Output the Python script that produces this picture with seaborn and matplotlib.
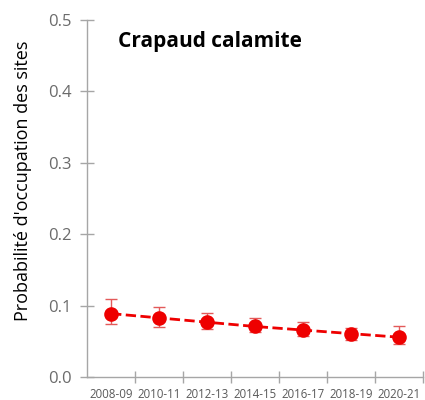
import numpy as np
import pandas as pd
import seaborn as sns
from matplotlib import pyplot as plt

periods = ['2008-09', '2010-11', '2012-13', '2014-15', '2016-17', '2018-19', '2020-21']
occupancy = [0.089, 0.083, 0.077, 0.071, 0.066, 0.061, 0.056]
ci_low = [0.074, 0.070, 0.068, 0.063, 0.057, 0.052, 0.046]
ci_high = [0.109, 0.098, 0.090, 0.083, 0.077, 0.069, 0.071]
y_ticks = [0.0, 0.1, 0.2, 0.3, 0.4, 0.5]

sns.set_style('white')
plt.rcParams['font.family'] = ['Open Sans', 'DejaVu Sans']

df = pd.DataFrame({'period': periods, 'occ': occupancy})

fig = plt.figure(figsize=(4.25, 4.0), dpi=100)
ax = fig.add_axes([0.205, 0.057, 0.79, 0.893])

err = np.array([np.array(occupancy) - np.array(ci_low), np.array(ci_high) - np.array(occupancy)])
ax.errorbar(np.arange(len(periods)), occupancy, yerr=err, fmt='none', ecolor='#e35a5a',
            elinewidth=1, capsize=4, capthick=1, zorder=2)
sns.pointplot(data=df, x='period', y='occ', color='#ee0000', linestyles='--', markers='o',
              markersize=9, linewidth=2, errorbar=None, ax=ax, zorder=3)

ax.set_xlim(-0.5, len(periods) - 0.5)
ax.set_ylim(0, 0.5)
ax.set_yticks(y_ticks)
ax.set_yticklabels([f'{v:.1f}' for v in y_ticks], fontsize=12, color='#6b6b6b')
ax.set_xticks(np.arange(len(periods)))
ax.set_xticklabels(periods, fontsize=8.3, color='#595959')
ax.tick_params(axis='x', which='major', bottom=False, length=0, pad=8)
ax.set_xticks(np.arange(len(periods)) + 0.5, minor=True)
ax.tick_params(axis='x', which='minor', bottom=True, length=8, direction='inout',
               color='#a6a6a6', width=1)
ax.tick_params(axis='y', left=True, length=10, direction='inout', color='#a6a6a6',
               width=1, pad=6)

for side in ['top', 'right']:
    ax.spines[side].set_visible(False)
for side in ['left', 'bottom']:
    ax.spines[side].set_color('#a6a6a6')
    ax.spines[side].set_linewidth(1)

ax.set_xlabel('')
ax.set_ylabel("Probabilité d'occupation des sites", fontsize=13, color='black')
ax.yaxis.set_label_coords(-0.165, 0.55)
ax.text(0.092, 0.94, 'Crapaud calamite', transform=ax.transAxes, fontsize=15,
        fontweight='bold', color='black', va='center', ha='left')

fig.savefig('out.png', dpi=100)
